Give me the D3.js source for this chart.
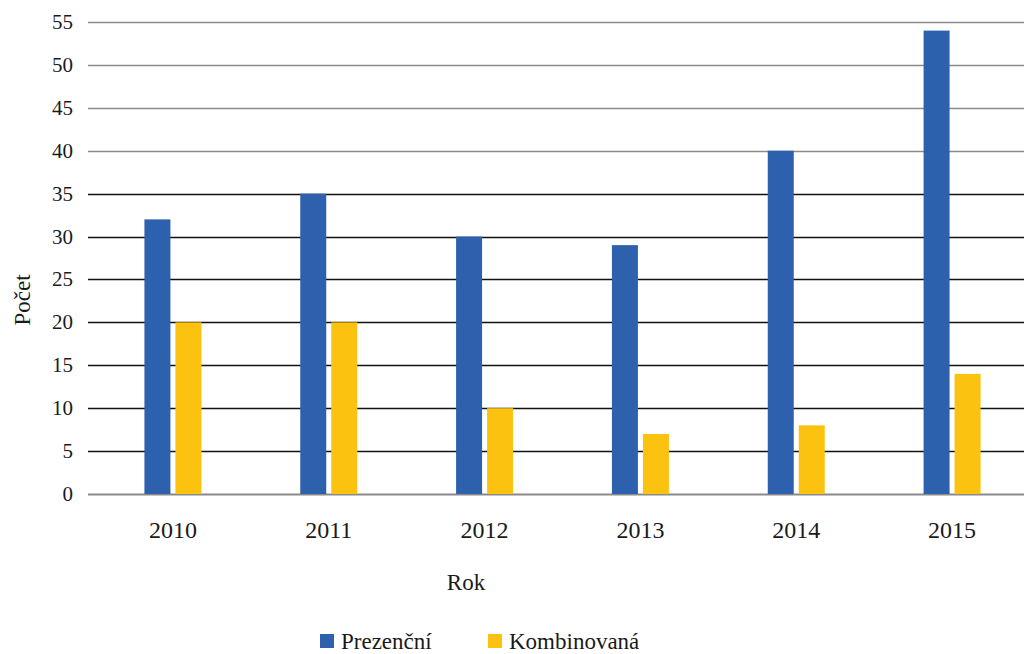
<!DOCTYPE html>
<html>
<head>
<meta charset="utf-8">
<script src="https://cdn.jsdelivr.net/npm/d3@7"></script>
<style>
  body { margin: 0; background: #fff; }
</style>
</head>
<body>
<div id="chart"></div>
<script>
// chart data
var years = ["2010", "2011", "2012", "2013", "2014", "2015"];
var prezencni = [32, 35, 30, 29, 40, 54];
var kombinovana = [20, 20, 10, 7, 8, 14];
var yTicks = [0, 5, 10, 15, 20, 25, 30, 35, 40, 45, 50, 55];
var seriesNames = ["Prezenční", "Kombinovaná"];
var seriesColors = ["#2e61ad", "#fcc210"];

var width = 1024, height = 654;
var serif = "'Liberation Serif', 'Times New Roman', Tinos, 'DejaVu Serif', serif";

var svg = d3.select("#chart")
  .append("svg")
  .attr("width", width)
  .attr("height", height)
  .style("font-family", serif);

// scales
var x = d3.scaleBand()
  .domain(years)
  .range([95, 1030])
  .padding(0);

var y = d3.scaleLinear()
  .domain([0, 55])
  .range([494, 22]);

// gridlines
svg.append("g")
  .selectAll("line")
  .data(yTicks)
  .enter().append("line")
  .attr("x1", 88)
  .attr("x2", 1024)
  .attr("y1", function(d) { return Math.round(y(d)) + 0.5; })
  .attr("y2", function(d) { return Math.round(y(d)) + 0.5; })
  .attr("stroke", function(d) { return (d == 0 || d >= 40) ? "#8a8a8a" : "#111"; })
  .attr("stroke-width", function(d) { return d == 0 ? 2 : 1.4; });

// y axis labels
svg.append("g")
  .selectAll("text")
  .data(yTicks)
  .enter().append("text")
  .attr("x", 73)
  .attr("y", function(d) { return y(d) + 7; })
  .attr("text-anchor", "end")
  .attr("fill", "#1a1a1a")
  .style("font-family", serif)
  .style("font-size", "21px")
  .text(function(d) { return d; });

// bars
var barW = 26, gap = 5;
var rows = years.map(function(yr, i) {
  return { year: yr, values: [prezencni[i], kombinovana[i]] };
});

var groups = svg.append("g")
  .selectAll("g")
  .data(rows)
  .enter().append("g")
  .attr("transform", function(d) {
    var cx = x(d.year) + x.bandwidth() / 2;
    return "translate(" + (cx - barW - gap / 2) + ",0)";
  });

groups.selectAll("rect")
  .data(function(d) { return d.values; })
  .enter().append("rect")
  .attr("x", function(d, i) { return i * (barW + gap); })
  .attr("y", function(d) { return y(d); })
  .attr("width", barW)
  .attr("height", function(d) { return y(0) - y(d); })
  .attr("fill", function(d, i) { return seriesColors[i]; });

// x labels
svg.append("g")
  .selectAll("text")
  .data(years)
  .enter().append("text")
  .attr("x", function(d) { return x(d) + x.bandwidth() / 2; })
  .attr("y", 538)
  .attr("text-anchor", "middle")
  .attr("fill", "#1a1a1a")
  .style("font-family", serif)
  .style("font-size", "24px")
  .text(function(d) { return d; });

// axis titles
svg.append("text")
  .attr("transform", "translate(30,300) rotate(-90)")
  .attr("text-anchor", "middle")
  .attr("fill", "#1a1a1a")
  .style("font-family", serif)
  .style("font-size", "23px")
  .text("Počet");

svg.append("text")
  .attr("x", 466)
  .attr("y", 590)
  .attr("text-anchor", "middle")
  .attr("fill", "#1a1a1a")
  .style("font-family", serif)
  .style("font-size", "23px")
  .text("Rok");

// legend
var legendX = [320, 488];
var legend = svg.append("g")
  .selectAll("g")
  .data(seriesNames)
  .enter().append("g")
  .attr("transform", function(d, i) { return "translate(" + legendX[i] + ",634)"; });

legend.append("rect")
  .attr("width", 14)
  .attr("height", 14)
  .attr("fill", function(d, i) { return seriesColors[i]; });

legend.append("text")
  .attr("x", 21)
  .attr("y", 15)
  .attr("fill", "#1a1a1a")
  .style("font-family", serif)
  .style("font-size", "23px")
  .text(function(d) { return d; });
</script>
</body>
</html>
